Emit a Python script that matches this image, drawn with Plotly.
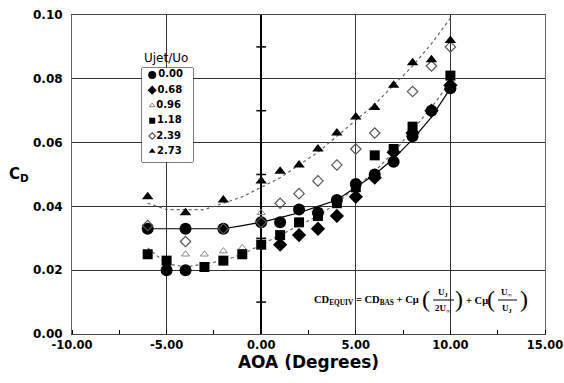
import plotly.graph_objects as go

# ---------------- data ----------------
aoa_000 = [-6, -5, -4, -4, -2, 0, 1, 2, 3, 4, 5, 6, 7, 8, 9, 10]
cd_000 = [0.033, 0.020, 0.020, 0.033, 0.033, 0.035, 0.035, 0.039, 0.038, 0.042, 0.047, 0.050, 0.054, 0.062, 0.070, 0.077]

aoa_068 = [1, 2, 3, 4, 5, 6, 7, 8, 9, 10]
cd_068 = [0.028, 0.031, 0.033, 0.037, 0.043, 0.049, 0.057, 0.063, 0.070, 0.078]

aoa_096 = [-4, -3, -2, -1, 0]
cd_096 = [0.025, 0.025, 0.026, 0.027, 0.038]

aoa_118 = [-6, -5, -3, -2, -1, 0, 1, 2, 3, 4, 5, 6, 7, 8, 10]
cd_118 = [0.025, 0.023, 0.021, 0.023, 0.025, 0.028, 0.031, 0.035, 0.037, 0.041, 0.046, 0.056, 0.058, 0.065, 0.081]

aoa_239 = [-6, -4, -2, 0, 1, 2, 3, 4, 5, 6, 8, 9, 10]
cd_239 = [0.034, 0.029, 0.033, 0.035, 0.041, 0.044, 0.048, 0.053, 0.058, 0.063, 0.076, 0.084, 0.090]

aoa_273 = [-6, -4, -2, 0, 1, 2, 3, 4, 5, 6, 7, 8, 9, 10]
cd_273 = [0.043, 0.038, 0.042, 0.048, 0.051, 0.053, 0.058, 0.063, 0.068, 0.071, 0.078, 0.085, 0.086, 0.092]

# curve fits
fit_aoa = [-6, -5, -4, -3, -2, -1, 0, 1, 2, 3, 4, 5, 6, 7, 8, 9, 10]
fit_solid = [0.033, 0.033, 0.033, 0.033, 0.033, 0.034, 0.035, 0.0365, 0.038, 0.040, 0.042, 0.046, 0.050, 0.055, 0.061, 0.068, 0.077]
fit_tri = [0.041, 0.039, 0.039, 0.039, 0.041, 0.043, 0.046, 0.049, 0.053, 0.057, 0.062, 0.067, 0.072, 0.078, 0.084, 0.091, 0.099]
fit_sq = [0.027, 0.022, 0.021, 0.022, 0.023, 0.025, 0.028, 0.031, 0.034, 0.037, 0.041, 0.046, 0.051, 0.057, 0.064, 0.071, 0.079]

legend_labels = ["0.00", "0.68", "0.96", "1.18", "2.39", "2.73"]
y_minor_ticks = [0.01, 0.03, 0.05, 0.07, 0.09]
x_tick_vals = [-10, -5, 0, 5, 10, 15]
x_tick_text = ["-10.00", "-5.00", "0.00", "5.00", "10.00", "15.00"]

# ---------------- styling ----------------
SANS = "DejaVu Sans"
SERIF = "Liberation Serif"
styles = [
    dict(symbol="circle", size=12, color="black", line=dict(width=0)),
    dict(symbol="diamond", size=11, color="black", line=dict(width=0)),
    dict(symbol="triangle-up-open", size=7, color="#888", line=dict(width=1, color="#888")),
    dict(symbol="square", size=10, color="black", line=dict(width=0)),
    dict(symbol="diamond-open", size=8, color="#555", line=dict(width=1.2, color="#555")),
    dict(symbol="triangle-up", size=10, color="black", line=dict(width=0)),
]
series = [(aoa_000, cd_000), (aoa_068, cd_068), (aoa_096, cd_096),
          (aoa_118, cd_118), (aoa_239, cd_239), (aoa_273, cd_273)]

fig = go.Figure()

# fits
fig.add_trace(go.Scatter(x=fit_aoa, y=fit_tri, mode="lines",
                         line=dict(color="#666", width=1.2, dash="dot"), showlegend=False, hoverinfo="skip"))
fig.add_trace(go.Scatter(x=fit_aoa, y=fit_sq, mode="lines",
                         line=dict(color="#666", width=1.2, dash="dot"), showlegend=False, hoverinfo="skip"))
fig.add_trace(go.Scatter(x=fit_aoa, y=fit_solid, mode="lines",
                         line=dict(color="black", width=1.2), showlegend=False, hoverinfo="skip"))

for (xs, ys), st, lab in zip(series, styles, legend_labels):
    fig.add_trace(go.Scatter(x=xs, y=ys, mode="markers", marker=st, name=lab, showlegend=False))

# minor ticks on the x=0 line
fig.add_trace(go.Scatter(x=[0] * len(y_minor_ticks), y=y_minor_ticks, mode="markers",
                         marker=dict(symbol="line-ew", size=7, line=dict(width=1.5, color="black")),
                         showlegend=False, hoverinfo="skip"))

# manual legend on a hidden overlay axis
n = len(legend_labels)
for i, (st, lab) in enumerate(zip(styles, legend_labels)):
    lst = dict(st)
    lst["size"] = max(5, st["size"] - 4)
    fig.add_trace(go.Scatter(x=[0.2], y=[1 - (i + 0.45) / (n + 0.15)], mode="markers+text",
                             marker=lst, text=[lab], textposition="middle right",
                             textfont=dict(family=SANS, size=10, color="black", weight="bold"),
                             xaxis="x2", yaxis="y2", showlegend=False, hoverinfo="skip"))

# full window; the page body margin is removed by a post script
W, H = 564, 383
L, R, T, B = 72, 19, 15, 49
pw, ph = W - L - R, H - T - B


def px_x(p):
    return -10 + (p - L) / pw * 25


def px_y(p):
    return (T + ph - p) / ph * 0.10


def pap_x(p):
    return (p - L) / pw


def pap_y(p):
    return (T + ph - p) / ph


grid = "#333"
fig.update_layout(
    width=W, height=H,
    margin=dict(l=L, r=R, t=T, b=B, autoexpand=False),
    paper_bgcolor="white", plot_bgcolor="white",
    showlegend=False,
    xaxis=dict(range=[-10, 15], tickvals=x_tick_vals, ticktext=x_tick_text,
               showgrid=True, gridcolor=grid, gridwidth=1,
               zeroline=True, zerolinecolor="black", zerolinewidth=2,
               showline=True, linecolor="#444", linewidth=1, mirror=True,
               ticks="", tickfont=dict(family=SANS, size=11.5, color="black", weight="bold"),
               minor=dict(dtick=2.5, tick0=0, ticks="inside", ticklen=4, tickcolor="black", showgrid=False),
               title=dict(text="AOA (Degrees)", font=dict(family=SANS, size=17, color="black", weight="bold"),
                          standoff=3)),
    yaxis=dict(range=[0, 0.10], dtick=0.02, tickformat=".2f",
               showgrid=True, gridcolor=grid, gridwidth=1,
               zeroline=False,
               showline=True, linecolor="#666", linewidth=1, mirror=True,
               ticks="", ticklabelstandoff=6,
               tickfont=dict(family=SANS, size=12, color="black", weight="bold")),
    xaxis2=dict(domain=[pap_x(142), pap_x(193)], range=[0, 1], visible=False, anchor="y2", fixedrange=True),
    yaxis2=dict(domain=[pap_y(162), pap_y(68)], range=[0, 1], visible=False, anchor="x2", fixedrange=True),
)

shapes = [
    dict(type="rect", xref="paper", yref="paper", x0=pap_x(142), x1=pap_x(193), y0=pap_y(162), y1=pap_y(68),
         line=dict(color="black", width=1), fillcolor="white", layer="below"),
]

annots = [
    dict(text="Ujet/Uo", xref="paper", yref="paper", x=pap_x(166), y=pap_y(58), showarrow=False,
         xanchor="center", yanchor="middle", font=dict(family=SANS, size=12, color="black")),
    dict(text="C<sub>D</sub>", xref="paper", yref="paper", x=pap_x(19), y=pap_y(175), showarrow=False,
         xanchor="center", yanchor="middle", font=dict(family=SANS, size=15, color="black", weight="bold")),
]

# formula
fy = 300
ff = dict(family=SERIF, size=10.5, color="black", weight="bold")
fs = dict(family=SERIF, size=9, color="black", weight="bold")
pf = dict(family=SERIF, size=24, color="black")


def A(text, p_x, p_y, font, xa="center"):
    return dict(text=text, x=px_x(p_x), y=px_y(p_y), xanchor=xa, yanchor="middle", showarrow=False, font=font)


annots += [
    A("CD<sub>EQUIV</sub> = CD<sub>BAS</sub> + Cμ", 421, fy, ff, "right"),
    A("(", 426, fy - 1, pf),
    A("U<sub>J</sub>", 443, fy - 8, fs),
    A("2U<sub>∞</sub>", 443, fy + 8, fs),
    A(")", 459, fy - 1, pf),
    A("+ Cμ", 464, fy, ff, "left"),
    A("(", 491, fy - 1, pf),
    A("U<sub>∞</sub>", 507, fy - 8, fs),
    A("U<sub>J</sub>", 507, fy + 8, fs),
    A(")", 524, fy - 1, pf),
]
shapes += [
    dict(type="line", xref="x", yref="y", x0=px_x(433), x1=px_x(454), y0=px_y(fy), y1=px_y(fy),
         line=dict(color="black", width=1)),
    dict(type="line", xref="x", yref="y", x0=px_x(498), x1=px_x(517), y0=px_y(fy), y1=px_y(fy),
         line=dict(color="black", width=1)),
]

fig.update_layout(shapes=shapes, annotations=annots)
fig.write_html("out.html", config={"displayModeBar": False, "staticPlot": True},
               post_script="document.body.style.margin='0px';document.body.style.overflow='hidden';")
